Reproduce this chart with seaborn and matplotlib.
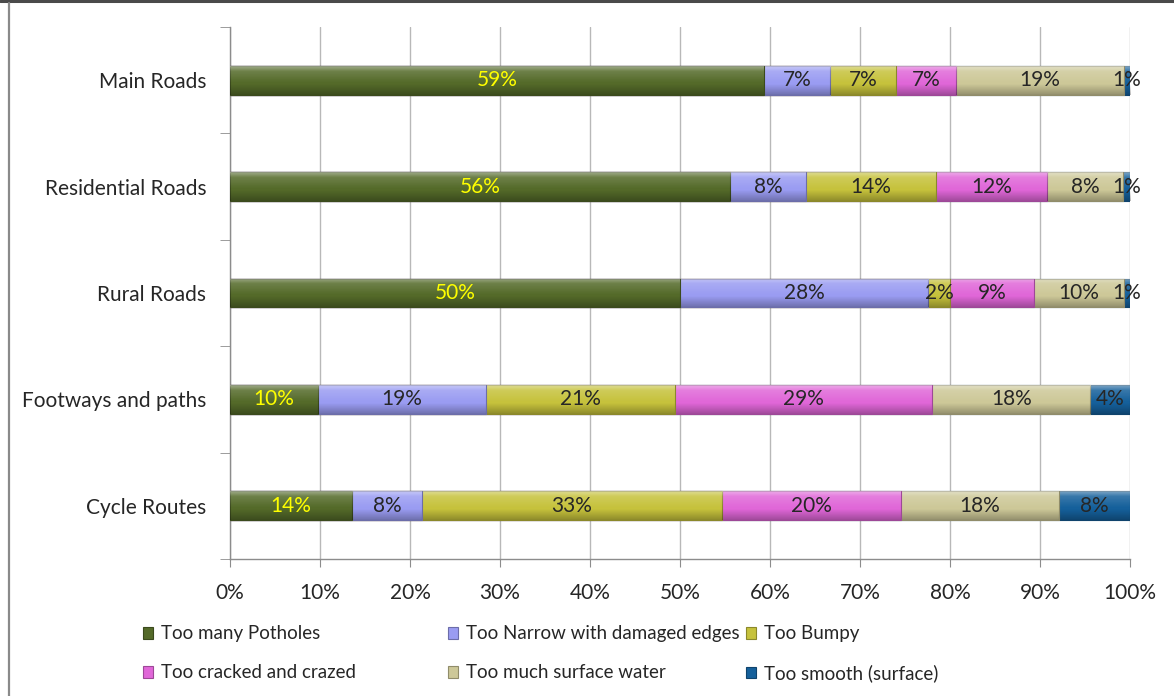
import numpy as np
import pandas as pd
import matplotlib
matplotlib.use("Agg")
import matplotlib.pyplot as plt
import matplotlib.colors as mcolors
from matplotlib.lines import Line2D
from matplotlib.patches import Patch
import seaborn as sns

# ---- data (percent of respondents per route type) ----
categories = ["Main Roads", "Residential Roads", "Rural Roads",
              "Footways and paths", "Cycle Routes"]
series_names = ["Too many Potholes", "Too Narrow with damaged edges", "Too Bumpy",
                "Too cracked and crazed", "Too much surface water", "Too smooth (surface)"]
potholes = [59.3, 55.6, 50.0, 9.8, 13.6]
narrow = [7.4, 8.4, 27.6, 18.6, 7.7]
bumpy = [7.3, 14.4, 2.4, 21.0, 33.4]
cracked = [6.7, 12.4, 9.3, 28.6, 19.8]
surface_water = [18.6, 8.4, 10.0, 17.6, 17.6]
smooth = [0.7, 0.8, 0.7, 4.4, 7.9]
x_ticks = [0, 10, 20, 30, 40, 50, 60, 70, 80, 90, 100]
x_tick_labels = ["0%", "10%", "20%", "30%", "40%", "50%", "60%", "70%", "80%", "90%", "100%"]

colors = ["#546a29", "#9a9cf2", "#c6c23c", "#e067d8", "#cdc898", "#15609b"]
label_colors = ["#ffff00", "#262626", "#262626", "#262626", "#262626", "#262626"]

sns.set_style("white")
plt.rcParams["font.family"] = ["Lato", "DejaVu Sans"]

df = pd.DataFrame({"category": categories})
for name, vals in zip(series_names, [potholes, narrow, bumpy, cracked, surface_water, smooth]):
    df[name] = vals
cum = df[series_names].cumsum(axis=1)

fig = plt.figure(figsize=(11.74, 6.96), dpi=100)
ax = fig.add_axes([230 / 1174, 1 - 559 / 696, 900 / 1174, 532 / 696])

BAR_H = 0.27


def bevel(patch, z):
    """Overlay a soft top highlight / bottom shade on a bar segment."""
    x0, y0 = patch.get_x(), patch.get_y()
    w, h = patch.get_width(), patch.get_height()
    n = 80
    t = np.linspace(0, 1, n)
    rgba = np.zeros((n, 1, 4))
    light = np.where(t < 0.18, 0.45 - (t / 0.18) * 0.3,
                     np.clip(0.15 - (t - 0.18) / 0.4 * 0.15, 0, None))
    dark = np.clip((t - 0.62) / 0.38, 0, 1) * 0.28
    rgba[:, 0, :3] = np.where(t[:, None] < 0.6, 1.0, 0.0)
    rgba[:, 0, 3] = np.where(t < 0.6, light, dark)
    im = ax.imshow(rgba, extent=(x0, x0 + w, y0 + h, y0), aspect="auto",
                   interpolation="bilinear", zorder=z)
    im.set_clip_path(patch)


# stacked bars: draw the cumulative totals from the outermost series inward
for k in reversed(range(len(series_names))):
    z = 2 + (len(series_names) - 1 - k)
    edge = mcolors.to_rgb(colors[k])
    edge = tuple(c * 0.7 for c in edge)
    n_before = len(ax.patches)
    sns.barplot(x=cum[series_names[k]], y=df["category"], orient="h",
                color=colors[k], saturation=1, width=BAR_H, errorbar=None,
                edgecolor=edge, linewidth=0.8, zorder=z, ax=ax)
    for p in ax.patches[n_before:]:
        bevel(p, z + 0.5)

# value labels centred in each segment
for k, name in enumerate(series_names):
    starts = cum[name] - df[name]
    for i, v in enumerate(df[name]):
        ax.text(starts[i] + v / 2, i, f"{int(v + 0.5)}%", ha="center", va="center",
                fontsize=15, color=label_colors[k], zorder=20)

ax.set_xlim(0, 100)
ax.set_ylim(len(categories) - 0.5, -0.5)
ax.set_xticks(x_ticks)
ax.set_xticklabels(x_tick_labels, fontsize=15, color="#262626")
ax.set_yticks(range(len(categories)))
ax.set_yticklabels(categories, fontsize=15, color="#262626")
ax.set_yticks(np.arange(-0.5, len(categories), 1), minor=True)
ax.set_xlabel("")
ax.set_ylabel("")
ax.xaxis.grid(True, color="#b8b8b8", linewidth=1)
ax.set_axisbelow(True)
ax.tick_params(axis="x", which="major", length=6, color="#8c8c8c", pad=11, direction="out",
               bottom=True)
ax.tick_params(axis="y", which="major", length=0, pad=17)
ax.tick_params(axis="y", which="minor", length=7, color="#8c8c8c", direction="out", left=True)
for side in ["top", "right"]:
    ax.spines[side].set_visible(False)
for side in ["left", "bottom"]:
    ax.spines[side].set_color("#8c8c8c")
    ax.spines[side].set_linewidth(1)

# legend: one entry per cell of a 3-column, 2-row grid
handles = [Patch(facecolor=c, edgecolor=tuple(x * 0.7 for x in mcolors.to_rgb(c)), linewidth=0.8)
           for c in colors]
col_x = [143, 448, 746]
row_y = [634, 673]
for i, (h, name) in enumerate(zip(handles, series_names)):
    row, col = divmod(i, 3)
    fig.legend([h], [name], loc="center left",
               bbox_to_anchor=(col_x[col] / 1174, 1 - row_y[row] / 696),
               frameon=False, fontsize=13.5, handlelength=0.55, handleheight=0.55,
               handletextpad=0.4, borderpad=0, borderaxespad=0)

# chart frame
fig.add_artist(Line2D([0, 1], [1 - 1.2 / 696] * 2, transform=fig.transFigure,
                      color="#4a4a4a", linewidth=2.2))
fig.add_artist(Line2D([8.5 / 1174] * 2, [0, 1 - 3 / 696], transform=fig.transFigure,
                      color="#8a8a8a", linewidth=1.6))

fig.savefig("out.png", dpi=100)
